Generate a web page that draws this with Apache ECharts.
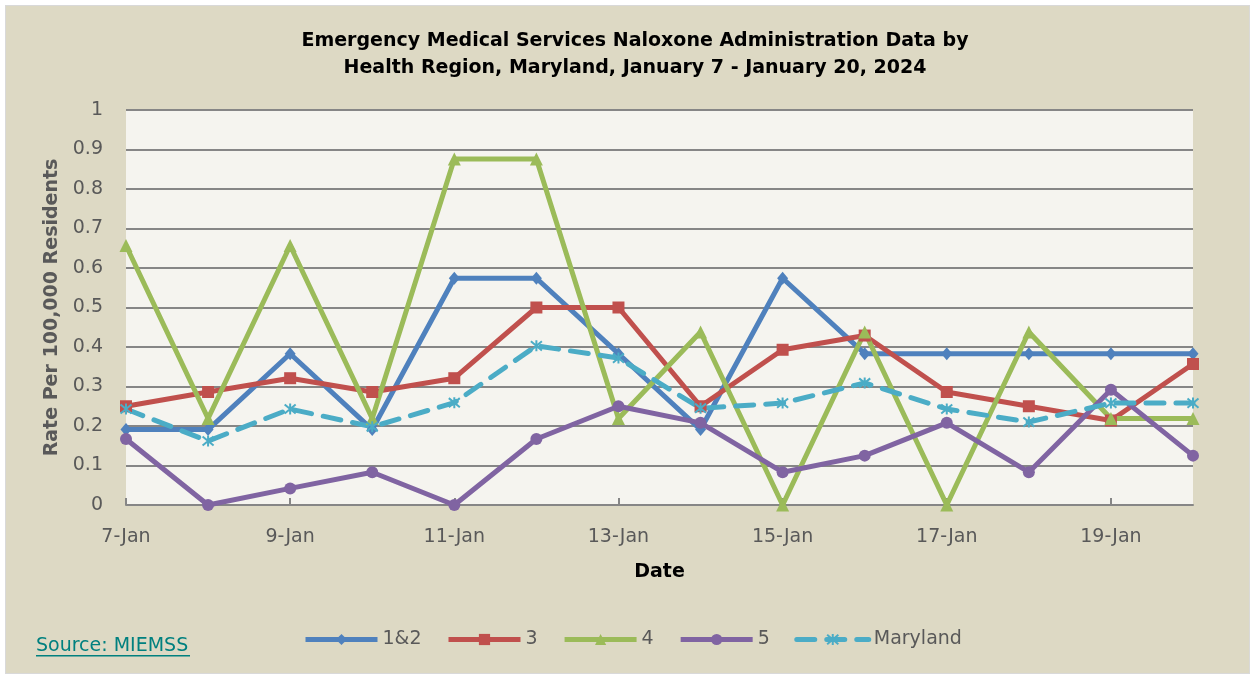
<!DOCTYPE html>
<html>
<head>
<meta charset="utf-8">
<script src="https://cdn.jsdelivr.net/npm/echarts@6/dist/echarts.min.js"></script>
<style>
  html, body { margin: 0; padding: 0; background: #ffffff; }
  #chart { position: absolute; left: 5px; top: 5px; width: 1243px; height: 667px; border: 1px solid #D9D9D9; }
</style>
</head>
<body>
<div id="chart"></div>
<script>
const categories = ['7-Jan','8-Jan','9-Jan','10-Jan','11-Jan','12-Jan','13-Jan','14-Jan','15-Jan','16-Jan','17-Jan','18-Jan','19-Jan','20-Jan'];
const region12 = [0.191, 0.191, 0.383, 0.191, 0.574, 0.574, 0.383, 0.191, 0.574, 0.383, 0.383, 0.383, 0.383, 0.383];
const region3 = [0.25, 0.286, 0.321, 0.286, 0.321, 0.5, 0.5, 0.25, 0.393, 0.429, 0.286, 0.25, 0.214, 0.357];
const region4 = [0.657, 0.219, 0.657, 0.219, 0.876, 0.876, 0.219, 0.438, 0, 0.438, 0, 0.438, 0.219, 0.219];
const region5 = [0.167, 0, 0.042, 0.083, 0, 0.167, 0.25, 0.208, 0.083, 0.125, 0.208, 0.083, 0.292, 0.125];
const maryland = [0.243, 0.162, 0.243, 0.198, 0.259, 0.403, 0.372, 0.245, 0.258, 0.309, 0.243, 0.21, 0.258, 0.258];
const yTicks = [0, 0.1, 0.2, 0.3, 0.4, 0.5, 0.6, 0.7, 0.8, 0.9, 1];

const FONT = 'DejaVu Sans';
const chart = echarts.init(document.getElementById('chart'));
const asterisk = 'path://M0,0L10,10M10,0L0,10M5,-1L5,11';

function lineSeries(name, data, color, symbol, size, extra) {
  return Object.assign({
    name: name,
    type: 'line',
    data: data,
    symbol: symbol,
    symbolSize: size,
    showAllSymbol: true,
    lineStyle: { color: color, width: 5 },
    itemStyle: { color: color },
    emphasis: { disabled: true },
    animation: false
  }, extra || {});
}

chart.setOption({
  backgroundColor: '#DDD9C4',
  animation: false,
  title: {
    text: 'Emergency Medical Services Naloxone Administration Data by\nHealth Region, Maryland, January 7 - January 20, 2024',
    left: 624,
    textAlign: 'center',
    top: 17,
    textStyle: { fontFamily: FONT, fontSize: 19, fontWeight: 'bold', color: '#000000', lineHeight: 27 }
  },
  grid: { left: 120, right: 56, top: 104, bottom: 168, show: true, backgroundColor: '#F5F4EF', borderWidth: 0 },
  legend: {
    left: 292,
    top: 619,
    itemWidth: 72,
    itemHeight: 14,
    itemGap: 24.5,
    lineStyle: { width: 5 },
    textStyle: { fontFamily: FONT, fontSize: 19, color: '#595959' },
    data: ['1&2', '3', '4', '5', 'Maryland']
  },
  xAxis: {
    type: 'category',
    data: categories,
    boundaryGap: false,
    name: 'Date',
    nameLocation: 'middle',
    nameGap: 58,
    nameTextStyle: { fontFamily: FONT, fontSize: 19, fontWeight: 'bold', color: '#000000' },
    axisLine: { show: true, lineStyle: { color: '#868686', width: 2 } },
    axisTick: { show: true, inside: true, length: 7, interval: 1, lineStyle: { color: '#868686', width: 2 } },
    axisLabel: { interval: 1, fontFamily: FONT, fontSize: 19, color: '#595959', margin: 23 },
    splitLine: { show: false }
  },
  yAxis: {
    type: 'value',
    min: 0,
    max: 1,
    interval: 0.1,
    name: 'Rate Per 100,000 Residents',
    nameLocation: 'middle',
    nameGap: 64,
    nameTextStyle: { fontFamily: FONT, fontSize: 19, fontWeight: 'bold', color: '#595959' },
    axisLine: { show: false },
    axisTick: { show: false },
    axisLabel: {
      fontFamily: FONT, fontSize: 19, color: '#595959', margin: 23,
      formatter: function (v) { return String(Math.round(v * 10) / 10); }
    },
    splitLine: { show: true, lineStyle: { color: '#868686', width: 2 } }
  },
  graphic: [
    {
      type: 'text',
      left: 30,
      top: 631,
      style: { text: 'Source: MIEMSS', fontFamily: FONT, fontSize: 19, fill: '#00807F' }
    },
    {
      type: 'rect',
      left: 30,
      top: 649,
      shape: { width: 154, height: 1.5 },
      style: { fill: '#00807F' }
    }
  ],
  series: [
    lineSeries('1&2', region12, '#4F81BD', 'diamond', [11, 13]),
    lineSeries('3', region3, '#C0504D', 'rect', 12),
    lineSeries('4', region4, '#9BBB59', 'triangle', 13),
    lineSeries('5', region5, '#8064A2', 'circle', 12),
    lineSeries('Maryland', maryland, '#4BACC6', asterisk, 11, {
      lineStyle: { color: '#4BACC6', width: 5, type: [18, 12], cap: 'round' },
      itemStyle: { color: 'none', borderColor: '#4BACC6', borderWidth: 2 }
    })
  ]
});
</script>
</body>
</html>
